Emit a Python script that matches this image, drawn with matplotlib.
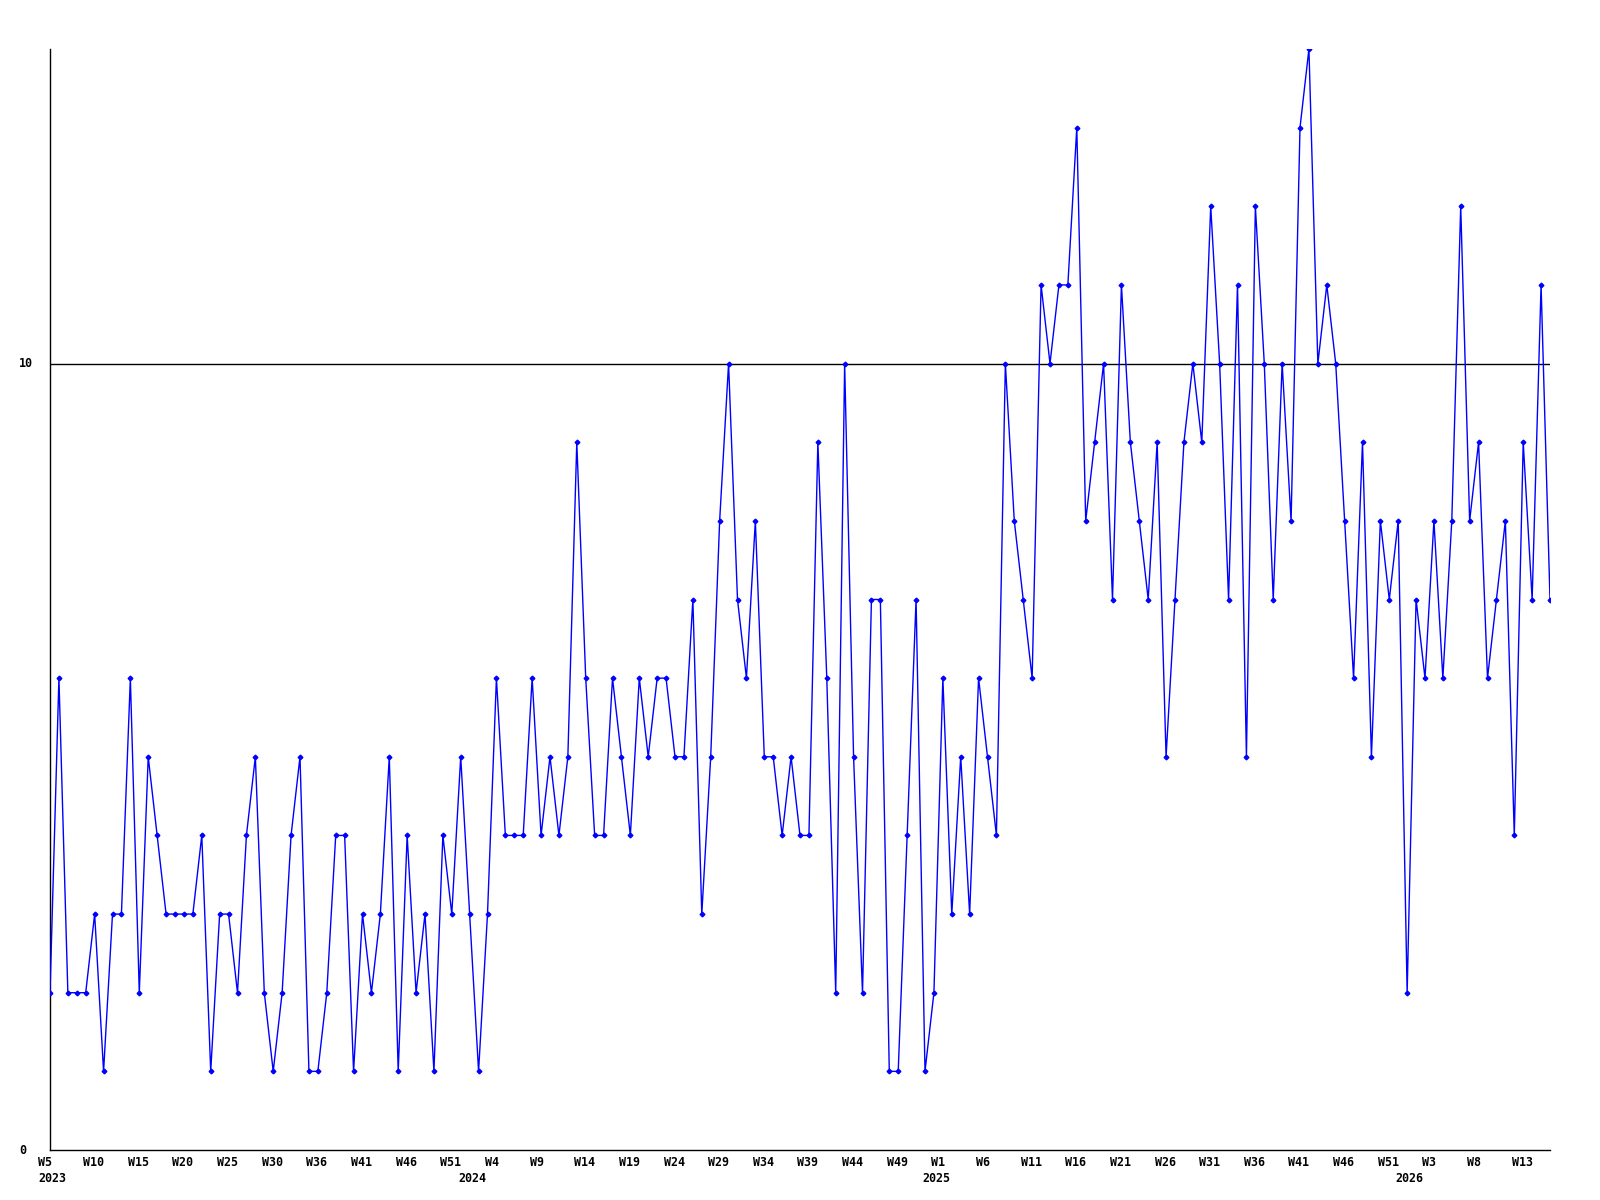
import matplotlib
matplotlib.use('Agg')
import matplotlib.pyplot as plt
import matplotlib.transforms as mtransforms
import numpy as np

# weekly counts, 2023 W5 .. 2026 W16
values = [2, 6, 2, 2, 2, 3, 1, 3, 3, 6,
          2, 5, 4, 3, 3, 3, 3, 4, 1, 3,
          3, 2, 4, 5, 2, 1, 2, 4, 5, 1,
          1, 2, 4, 4, 1, 3, 2, 3, 5, 1,
          4, 2, 3, 1, 4, 3, 5, 3, 1, 3,
          6, 4, 4, 4, 6, 4, 5, 4, 5, 9,
          6, 4, 4, 6, 5, 4, 6, 5, 6, 6,
          5, 5, 7, 3, 5, 8, 10, 7, 6, 8,
          5, 5, 4, 5, 4, 4, 9, 6, 2, 10,
          5, 2, 7, 7, 1, 1, 4, 7, 1, 2,
          6, 3, 5, 3, 6, 5, 4, 10, 8, 7,
          6, 11, 10, 11, 11, 13, 8, 9, 10, 7,
          11, 9, 8, 7, 9, 5, 7, 9, 10, 9,
          12, 10, 7, 11, 5, 12, 10, 7, 10, 8,
          13, 14, 10, 11, 10, 8, 6, 9, 5, 8,
          7, 8, 2, 7, 6, 8, 6, 8, 12, 8,
          9, 6, 7, 8, 4, 9, 7, 11, 7]

week_labels = ['W5', 'W10', 'W15', 'W20', 'W25', 'W30', 'W36', 'W41', 'W46', 'W51',
               'W4', 'W9', 'W14', 'W19', 'W24', 'W29', 'W34', 'W39', 'W44', 'W49',
               'W1', 'W6', 'W11', 'W16', 'W21', 'W26', 'W31', 'W36', 'W41', 'W46',
               'W51', 'W3', 'W8', 'W13']
week_pos = list(range(0, 5 * len(week_labels), 5))

years = ['2023', '2024', '2025', '2026']
year_pos = [0, 47, 99, 152]

plt.rcParams['font.family'] = ['DejaVu Sans Mono']
plt.rcParams['font.weight'] = 'bold'
plt.rcParams['font.size'] = 8.4

fig = plt.figure(figsize=(16, 12), dpi=100)
ax = fig.add_axes([50 / 1600, 1 - 1150 / 1200, 1500 / 1600, 1101 / 1200])

x = np.arange(len(values))
ax.axhline(10, color='black', lw=1.0, zorder=1)
ax.plot(x, values, color='#0000ff', lw=1.0, marker='D', ms=2.4, zorder=3)

ax.set_xlim(0, len(values) - 1)
ax.set_ylim(0, 14)

for s in ['top', 'right']:
    ax.spines[s].set_visible(False)
for s in ['left', 'bottom']:
    ax.spines[s].set_color('black')
    ax.spines[s].set_linewidth(1.0)

ax.set_yticks([0, 10])
ax.set_yticklabels(['0', '10'])
ax.tick_params(axis='y', length=0, pad=31 * 0.72)
for lbl in ax.get_yticklabels():
    lbl.set_ha('left')
    lbl.set_va('center')

ax.set_xticks(week_pos)
ax.set_xticklabels(week_labels)
ax.tick_params(axis='x', length=0, pad=12 * 0.72)
shift = mtransforms.ScaledTranslation(-11.5 / 100, 0, fig.dpi_scale_trans)
for lbl in ax.get_xticklabels():
    lbl.set_ha('left')
    lbl.set_va('center')
    lbl.set_transform(lbl.get_transform() + shift)

for yr, p in zip(years, year_pos):
    ax.annotate(yr, xy=(p, 0), xycoords=('data', 'axes fraction'),
                xytext=(-11.5, -28), textcoords='offset pixels',
                ha='left', va='center')

fig.savefig('out.png', dpi=100)
